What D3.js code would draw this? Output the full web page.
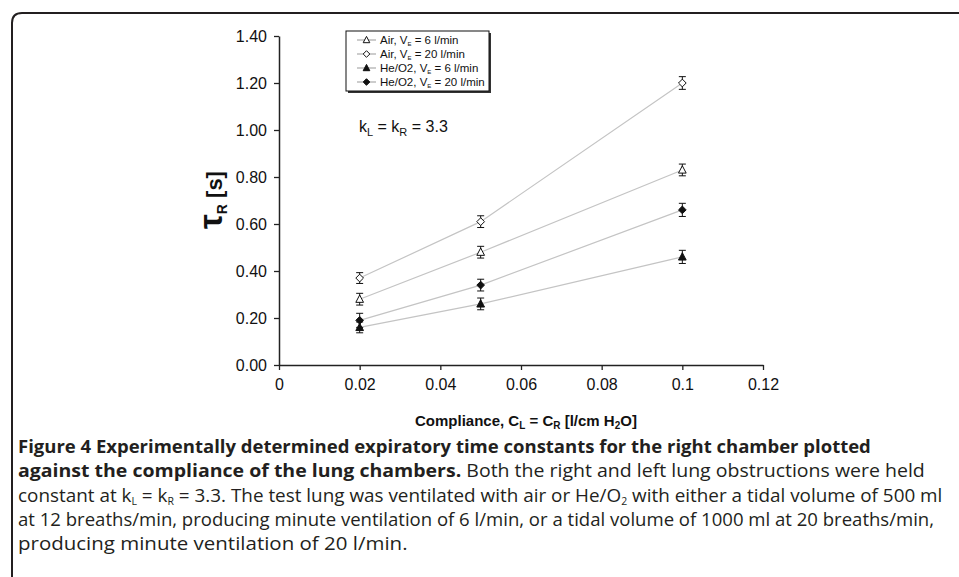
<!DOCTYPE html>
<html><head><meta charset="utf-8">
<script src="https://cdn.jsdelivr.net/npm/d3@7/dist/d3.min.js"></script>
<style>body{margin:0;background:#fff}svg{display:block}</style>
</head><body>
<svg id="c" width="959" height="577"></svg>
<script>
// ---- data ----
const compliance = [0.02, 0.05, 0.1];
const air6 = [0.28, 0.48, 0.83];
const air20 = [0.37, 0.61, 1.20];
const he6 = [0.16, 0.26, 0.46];
const he20 = [0.19, 0.34, 0.66];
const air6Err = [0.025, 0.025, 0.025];
const air20Err = [0.023, 0.025, 0.027];
const he6Err = [0.023, 0.025, 0.028];
const he20Err = [0.03, 0.025, 0.028];
const xTicks = [0, 0.02, 0.04, 0.06, 0.08, 0.1, 0.12];
const xTickLabels = ["0", "0.02", "0.04", "0.06", "0.08", "0.1", "0.12"];
const yTicks = [0, 0.2, 0.4, 0.6, 0.8, 1.0, 1.2, 1.4];
const yTickLabels = ["0.00", "0.20", "0.40", "0.60", "0.80", "1.00", "1.20", "1.40"];
const seriesNames = ["Air, V", "Air, V", "He/O2, V", "He/O2, V"];
const seriesRest = [" = 6 l/min", " = 20 l/min", " = 6 l/min", " = 20 l/min"];

const series = [
  {name: seriesNames[0], rest: seriesRest[0], vals: air6, err: air6Err, shape: "tri", fill: false},
  {name: seriesNames[1], rest: seriesRest[1], vals: air20, err: air20Err, shape: "dia", fill: false},
  {name: seriesNames[2], rest: seriesRest[2], vals: he6, err: he6Err, shape: "tri", fill: true},
  {name: seriesNames[3], rest: seriesRest[3], vals: he20, err: he20Err, shape: "dia", fill: true}
];

const svg = d3.select("#c");
const chartFont = "Liberation Sans, Arial, sans-serif";
const x = d3.scaleLinear().domain([0, 0.12]).range([279, 763]);
const y = d3.scaleLinear().domain([0, 1.4]).range([365, 36]);

// frame
svg.append("path").attr("d", "M12,577 L12,23 Q12,13 22,13 L959,13")
  .attr("fill", "none").attr("stroke", "#231f20").attr("stroke-width", 2);

// axes
const xAxis = d3.axisBottom(x).tickValues(xTicks).tickFormat((d, i) => xTickLabels[i]).tickSizeInner(5).tickSizeOuter(0).tickPadding(9);
const gx = svg.append("g").attr("transform", "translate(0,365)").call(xAxis);
const yAxis = d3.axisLeft(y).tickValues(yTicks).tickFormat((d, i) => yTickLabels[i]).tickSizeInner(5).tickSizeOuter(0).tickPadding(7);
const gy = svg.append("g").attr("transform", "translate(279,0)").call(yAxis);
[gx, gy].forEach(g => {
  g.select(".domain").attr("stroke", "#222").attr("stroke-width", 1.5);
  g.selectAll(".tick line").attr("stroke", "#222").attr("stroke-width", 1.3);
  g.selectAll(".tick text").attr("font-family", chartFont).attr("font-size", 16).attr("fill", "#111");
});

// marker helper
function marker(g, shape, fill, cx, cy, s) {
  if (shape === "tri") {
    const h = s;
    g.append("path").attr("d", `M${cx},${cy - h * 0.6} L${cx + h * 0.55},${cy + h * 0.45} L${cx - h * 0.55},${cy + h * 0.45} Z`)
      .attr("fill", fill ? "#111" : "#fff").attr("stroke", "#111").attr("stroke-width", 1);
  } else {
    const h = s * 0.55;
    g.append("path").attr("d", `M${cx},${cy - h} L${cx + h},${cy} L${cx},${cy + h} L${cx - h},${cy} Z`)
      .attr("fill", fill ? "#111" : "#fff").attr("stroke", "#111").attr("stroke-width", 1);
  }
}

// lines
const line = d3.line().x((d, i) => x(compliance[i])).y(d => y(d));
series.forEach(s => {
  svg.append("path").attr("d", line(s.vals)).attr("fill", "none").attr("stroke", "#c4c4c4").attr("stroke-width", 1.2);
});
// error bars & markers
series.forEach(s => {
  const g = svg.append("g");
  s.vals.forEach((v, i) => {
    const cx = x(compliance[i]);
    const y1 = y(v + s.err[i]), y2 = y(v - s.err[i]);
    g.append("line").attr("x1", cx).attr("x2", cx).attr("y1", y1).attr("y2", y2).attr("stroke", "#111").attr("stroke-width", 1);
    [y1, y2].forEach(yy => g.append("line").attr("x1", cx - 3.5).attr("x2", cx + 3.5).attr("y1", yy).attr("y2", yy).attr("stroke", "#111").attr("stroke-width", 1));
    marker(g, s.shape, s.fill, cx, y(v), 7);
  });
});

// legend
const lg = svg.append("g");
lg.append("rect").attr("x", 348).attr("y", 33).attr("width", 143).attr("height", 60).attr("fill", "#333");
lg.append("rect").attr("x", 346).attr("y", 31).attr("width", 143).attr("height", 60).attr("fill", "#fff").attr("stroke", "#111").attr("stroke-width", 1);
series.forEach((s, i) => {
  const yy = 40 + i * 14;
  lg.append("line").attr("x1", 357).attr("x2", 376).attr("y1", yy).attr("y2", yy).attr("stroke", "#999").attr("stroke-width", 1);
  marker(lg, s.shape, s.fill, 366.5, yy, 6);
  const t = lg.append("text").attr("x", 380).attr("y", yy + 4).attr("font-family", chartFont).attr("font-size", 11.5).attr("fill", "#111");
  t.append("tspan").text(s.name);
  t.append("tspan").attr("font-size", 6).attr("dy", 2).text("E");
  t.append("tspan").attr("dy", -2).text(s.rest);
});

// k annotation
const kt = svg.append("text").attr("x", 359).attr("y", 132).attr("font-family", chartFont).attr("font-size", 16).attr("fill", "#111");
kt.append("tspan").text("k");
kt.append("tspan").attr("font-size", 11).attr("dy", 4).text("L");
kt.append("tspan").attr("dy", -4).text(" = k");
kt.append("tspan").attr("font-size", 11).attr("dy", 4).text("R");
kt.append("tspan").attr("dy", -4).text(" = 3.3");

// y title
const yt = svg.append("text").attr("transform", "translate(222,200) rotate(-90)").attr("text-anchor", "middle")
  .attr("font-family", chartFont).attr("font-weight", "bold").attr("font-size", 22).attr("fill", "#111");
yt.append("tspan").attr("font-size", 33).text("τ");
yt.append("tspan").attr("font-size", 14).attr("dy", 5).text("R");
yt.append("tspan").attr("dy", -5).text(" [s]");

// x title
const xt = svg.append("text").attr("x", 415).attr("y", 426)
  .attr("font-family", chartFont).attr("font-weight", "bold").attr("font-size", 15).attr("fill", "#111");
xt.append("tspan").text("Compliance, C");
xt.append("tspan").attr("font-size", 10).attr("dy", 3).text("L");
xt.append("tspan").attr("dy", -3).text(" = C");
xt.append("tspan").attr("font-size", 10).attr("dy", 3).text("R");
xt.append("tspan").attr("dy", -3).text(" [l/cm H");
xt.append("tspan").attr("font-size", 10).attr("dy", 3).text("2");
xt.append("tspan").attr("dy", -3).text("O]");

// caption
const capFont = "Open Sans, Noto Sans, sans-serif";
const captionLines = [
  {w: 853, segs: [{t: "Figure 4 Experimentally determined expiratory time constants for the right chamber plotted", b: 1}]},
  {w: 907, segs: [{t: "against the compliance of the lung chambers.", b: 1}, {t: " Both the right and left lung obstructions were held"}]},
  {w: 925, segs: [{t: "constant at k"}, {t: "L", sub: 1}, {t: " = k"}, {t: "R", sub: 1}, {t: " = 3.3. The test lung was ventilated with air or He/O"}, {t: "2", sub: 1}, {t: " with either a tidal volume of 500 ml"}]},
  {w: 917, segs: [{t: "at 12 breaths/min, producing minute ventilation of 6 l/min, or a tidal volume of 1000 ml at 20 breaths/min,"}]},
  {w: 390, segs: [{t: "producing minute ventilation of 20 l/min."}]}
];
const capBase = [453, 477, 502, 526, 550];
captionLines.forEach((ln, i) => {
  const g = svg.append("g");
  const t = g.append("text").attr("x", 0).attr("y", 0).attr("font-family", capFont).attr("font-size", 18).attr("fill", "#231f20");
  let sub = false;
  ln.segs.forEach(s => {
    const ts = t.append("tspan").text(s.t).attr("font-weight", s.b ? 700 : 400);
    if (s.sub && !sub) { ts.attr("font-size", 10).attr("dy", 3); sub = true; }
    else if (!s.sub && sub) { ts.attr("dy", -3); sub = false; }
  });
  const w = t.node().getComputedTextLength();
  g.attr("transform", `translate(18,${capBase[i]}) scale(${ln.w / w},1)`);
});
</script>
</body></html>
